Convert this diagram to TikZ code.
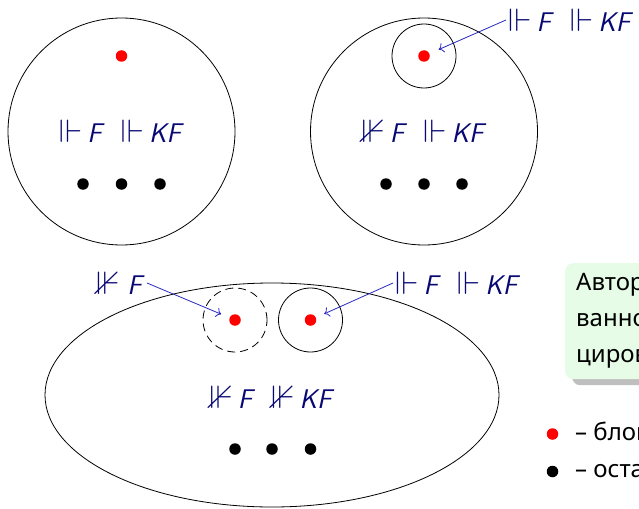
\documentclass[tikz,border=0pt]{standalone}
\usepackage{amsmath}
\usepackage{amssymb}
\usepackage{graphicx}
\usepackage{fontspec}
\setmainfont{Noto Sans}
\usetikzlibrary{shapes.geometric, arrows.meta, shadows}

\newcommand{\fm}[1]{\textsf{\itshape #1}}
\newcommand{\frc}{\scalebox{1.2}{$\Vdash$}\hspace{5pt}}
\newcommand{\nfrc}{\scalebox{1.2}{$\nVdash$}\hspace{5pt}}

\begin{document}
\begin{tikzpicture}[x=1pt, y=-1pt,
  world/.style={draw, circle, line width=0.8pt, inner sep=0pt},
  reddot/.style={circle, fill=red, inner sep=0pt, minimum size=11.5pt},
  blackdot/.style={circle, fill=black, inner sep=0pt, minimum size=11.5pt},
  forcetext/.style={text=formblue, inner sep=2pt, font=\fontsize{27}{30}\selectfont},
  pointer/.style={draw=arrowblue, line width=0.8pt, -{To[length=5pt, width=10pt]}},
  legtext/.style={anchor=base west, inner sep=0pt, font=\fontsize{24}{36}\selectfont}]
  \definecolor{formblue}{RGB}{8,8,115}
  \definecolor{arrowblue}{RGB}{40,40,190}
  \definecolor{notegreen}{RGB}{230,252,230}

  \useasboundingbox (0,0) rectangle (639,508);
  \clip (0,0) rectangle (639,508);

  % first model
  \node[world, minimum size=227pt] (m1) at (121.5,131.5) {};
  \node[reddot] (r1) at (121.5,56) {};
  \node[forcetext] (f1) at (121.5,131.5) {\frc\fm{F}\hspace{16pt}\frc\fm{KF}};
  \foreach \x in {83,121.5,160}
    \node[blackdot] (b1-\x) at (\x,184) {};

  % second model
  \node[world, minimum size=227pt] (m2) at (424,131.5) {};
  \node[world, minimum size=64pt] (c2) at (424,56) {};
  \node[reddot] (r2) at (424,56) {};
  \node[forcetext] (f2) at (424,131.5) {\nfrc\fm{F}\hspace{16pt}\frc\fm{KF}};
  \foreach \x in {386,424,462}
    \node[blackdot] (b2-\x) at (\x,184) {};
  \node[forcetext, anchor=west] (l1) at (506,20) {\frc\fm{F}\hspace{16pt}\frc\fm{KF}};
  \draw[pointer, shorten >=10pt] (l1.west) -- (r2);

  % third model
  \node[draw, ellipse, line width=0.8pt, minimum width=454pt, minimum height=224pt] (m3) at (272,395) {};
  \node[world, dash pattern=on 8pt off 5pt, minimum size=64pt] (c3) at (235,320) {};
  \node[world, minimum size=64pt] (c4) at (310.5,320) {};
  \node[reddot] (r3) at (235,320) {};
  \node[reddot] (r4) at (310.5,320) {};
  \node[forcetext] (f3) at (272,397) {\nfrc\fm{F}\hspace{16pt}\nfrc\fm{KF}};
  \foreach \x in {235,272,310.5}
    \node[blackdot] (b3-\x) at (\x,449) {};
  \node[forcetext, anchor=east] (l2) at (147,283) {\nfrc\hspace{3pt}\fm{F}};
  \node[forcetext, anchor=west] (l3) at (393,283) {\frc\fm{F}\hspace{16pt}\frc\fm{KF}};
  \draw[pointer, shorten >=9pt] (l2.east) -- (r3);
  \draw[pointer, shorten >=9pt] (l3.west) -- (r4);

  % note and legend
  \node[anchor=north west, fill=notegreen, rounded corners=8pt, minimum height=116pt,
        text width=400pt, inner xsep=11pt, align=left,
        drop shadow={shadow xshift=7pt, shadow yshift=-6pt, fill=black!25, opacity=1},
        font=\fontsize{24}{36}\selectfont] (note) at (565,263)
    {Авторизо-\\ванное множество\\цированных миров};
  \node[reddot] (lr) at (552.5,434) {};
  \node[blackdot] (lb) at (552.5,471.5) {};
  \node[legtext] (lt1) at (575,440) {– блокированные миры};
  \node[legtext] (lt2) at (575,477) {– остальные миры};
\end{tikzpicture}
\end{document}
